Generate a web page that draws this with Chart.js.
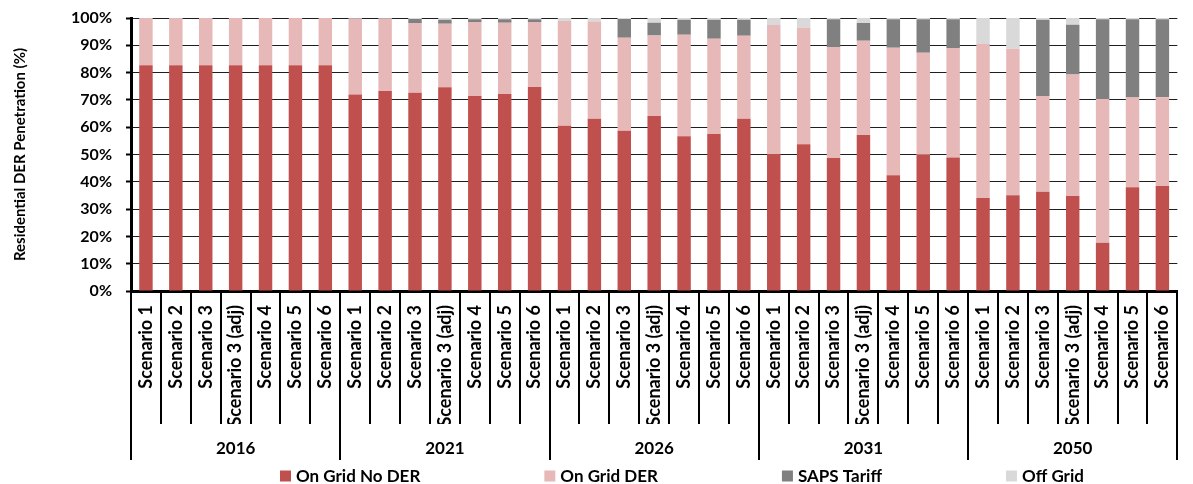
<!DOCTYPE html>
<html>
<head>
<meta charset="utf-8">
<script src="https://cdn.jsdelivr.net/npm/chart.js@4.4.1/dist/chart.umd.min.js"></script>
<style>
  html, body { margin: 0; padding: 0; background: #fff; overflow: hidden; }
  #wrap { position: relative; width: 1198px; height: 484px; }
</style>
</head>
<body>
<div id="wrap"><canvas id="c" width="1198" height="484"></canvas></div>
<script>
// Years (outer category level) and scenarios (inner category level)
const years = ['2016', '2021', '2026', '2031', '2050'];
const scenarios = ['Scenario 1', 'Scenario 2', 'Scenario 3', 'Scenario 3 (adj)', 'Scenario 4', 'Scenario 5', 'Scenario 6'];

// Share of residential customers (%), one value per year x scenario
const onGridNoDER = [
  82.7, 82.7, 82.7, 82.7, 82.7, 82.7, 82.7,
  72.0, 73.3, 72.6, 74.6, 71.4, 72.2, 74.7,
  60.5, 63.1, 58.7, 64.1, 56.7, 57.5, 63.1,
  50.2, 53.8, 48.7, 57.1, 42.4, 49.9, 48.9,
  34.1, 35.1, 36.4, 34.8, 17.7, 38.0, 38.5
];
const onGridDER = [
  17.3, 17.3, 17.3, 17.3, 17.3, 17.3, 17.3,
  27.7, 26.4, 25.6, 23.3, 27.1, 26.1, 23.8,
  38.4, 35.6, 34.1, 29.5, 37.2, 34.9, 30.4,
  47.2, 42.6, 40.7, 34.6, 46.7, 37.4, 40.1,
  56.4, 53.6, 35.0, 44.5, 52.6, 32.9, 32.5
];
const sapsTariff = [
  0, 0, 0, 0, 0, 0, 0,
  0, 0, 1.4, 1.5, 1.0, 1.2, 1.0,
  0, 0, 6.8, 4.7, 5.5, 7.0, 5.9,
  0, 0, 10.1, 6.5, 10.4, 12.2, 10.5,
  0, 0, 28.0, 18.2, 29.2, 28.6, 28.5
];
const offGrid = [
  0, 0, 0, 0, 0, 0, 0,
  0.3, 0.3, 0.4, 0.6, 0.5, 0.5, 0.5,
  1.1, 1.3, 0.4, 1.7, 0.6, 0.6, 0.6,
  2.6, 3.6, 0.5, 1.8, 0.5, 0.5, 0.5,
  9.5, 11.3, 0.6, 2.5, 0.5, 0.5, 0.5
];

const seriesNames = ['On Grid No DER', 'On Grid DER', 'SAPS Tariff', 'Off Grid'];
const seriesColors = ['#C0504D', '#E6B9B8', '#808080', '#D9D9D9'];
const yTickValues = [0, 10, 20, 30, 40, 50, 60, 70, 80, 90, 100];

const categories = years.flatMap(() => scenarios);
const seriesData = [onGridNoDER, onGridDER, sapsTariff, offGrid];

const FONT = 'Lato';
const boldFont = (size) => ({ family: FONT, size: size, weight: 'bold' });

// Vertical separators between categories; longer ones between year groups
const separatorPlugin = {
  id: 'separators',
  afterDraw(chart) {
    const xs = chart.scales.x;
    const xg = chart.scales.xGroup;
    const ctx = chart.ctx;
    const n = categories.length;
    const step = xs.getPixelForValue(1) - xs.getPixelForValue(0);
    const first = xs.getPixelForValue(0) - step / 2;
    ctx.save();
    ctx.strokeStyle = '#000';
    ctx.lineWidth = 2;
    ctx.beginPath();
    for (let i = 0; i <= n; i++) {
      const px = Math.round(first + i * step);
      const groupEdge = i % scenarios.length === 0;
      ctx.moveTo(px, xs.top);
      ctx.lineTo(px, groupEdge ? xg.bottom : xs.bottom);
    }
    ctx.stroke();
    ctx.restore();
  }
};

// Single-row legend under the year labels
const legendPlugin = {
  id: 'rowLegend',
  afterDraw(chart) {
    const ctx = chart.ctx;
    const box = 11, gap = 5, spacing = 124;
    const y = 476;
    ctx.save();
    ctx.font = 'bold 17px ' + FONT;
    ctx.textBaseline = 'middle';
    ctx.textAlign = 'left';
    let x = 280;
    chart.data.datasets.forEach((ds) => {
      ctx.fillStyle = ds.backgroundColor;
      ctx.fillRect(x, y - box / 2, box, box);
      ctx.fillStyle = '#000';
      ctx.fillText(ds.label, x + box + gap, y + 1);
      x += box + gap + ctx.measureText(ds.label).width + spacing;
    });
    ctx.restore();
  }
};

new Chart(document.getElementById('c'), {
  type: 'bar',
  data: {
    labels: categories,
    datasets: seriesNames.map((name, i) => ({
      label: name,
      data: seriesData[i],
      backgroundColor: seriesColors[i],
      borderWidth: 0,
      categoryPercentage: 1,
      barPercentage: 0.45
    }))
  },
  options: {
    responsive: false,
    animation: false,
    layout: { padding: { top: 18, right: 0, bottom: 24, left: 0 } },
    plugins: {
      legend: { display: false },
      tooltip: { enabled: false }
    },
    scales: {
      x: {
        type: 'category',
        stacked: true,
        offset: true,
        weight: 0,
        grid: { display: false, drawTicks: false },
        border: { display: true, color: '#000', width: 3 },
        ticks: {
          autoSkip: false,
          minRotation: 90,
          maxRotation: 90,
          padding: 14,
          color: '#000',
          font: boldFont(18)
        },
        afterFit(scale) { scale.height = 133; }
      },
      xGroup: {
        type: 'category',
        axis: 'x',
        position: 'bottom',
        labels: years,
        offset: true,
        weight: 1,
        grid: { display: false, drawTicks: false },
        border: { display: false },
        ticks: {
          autoSkip: false,
          maxRotation: 0,
          minRotation: 0,
          padding: 14,
          color: '#000',
          font: boldFont(17)
        },
        afterFit(scale) { scale.height = 36; }
      },
      y: {
        stacked: true,
        min: 0,
        max: 100,
        afterBuildTicks(scale) { scale.ticks = yTickValues.map(v => ({ value: v })); },
        grid: {
          color: '#1e1e1e',
          lineWidth: 1,
          drawTicks: true,
          tickLength: 5,
          tickWidth: 2,
          tickColor: '#000'
        },
        border: { display: true, color: '#000', width: 3 },
        ticks: {
          padding: 14,
          color: '#000',
          font: boldFont(16),
          callback: (v) => v + '%'
        },
        title: {
          display: true,
          text: 'Residential DER Penetration (%)',
          color: '#000',
          font: boldFont(15),
          padding: { top: 11, bottom: 0 }
        },
        afterFit(scale) {
          scale.width = 131;
          // only half a label height of overhang is needed above and below
          scale.paddingTop = 10;
          scale.paddingBottom = 10;
        }
      }
    }
  },
  plugins: [separatorPlugin, legendPlugin]
});
</script>
</body>
</html>
